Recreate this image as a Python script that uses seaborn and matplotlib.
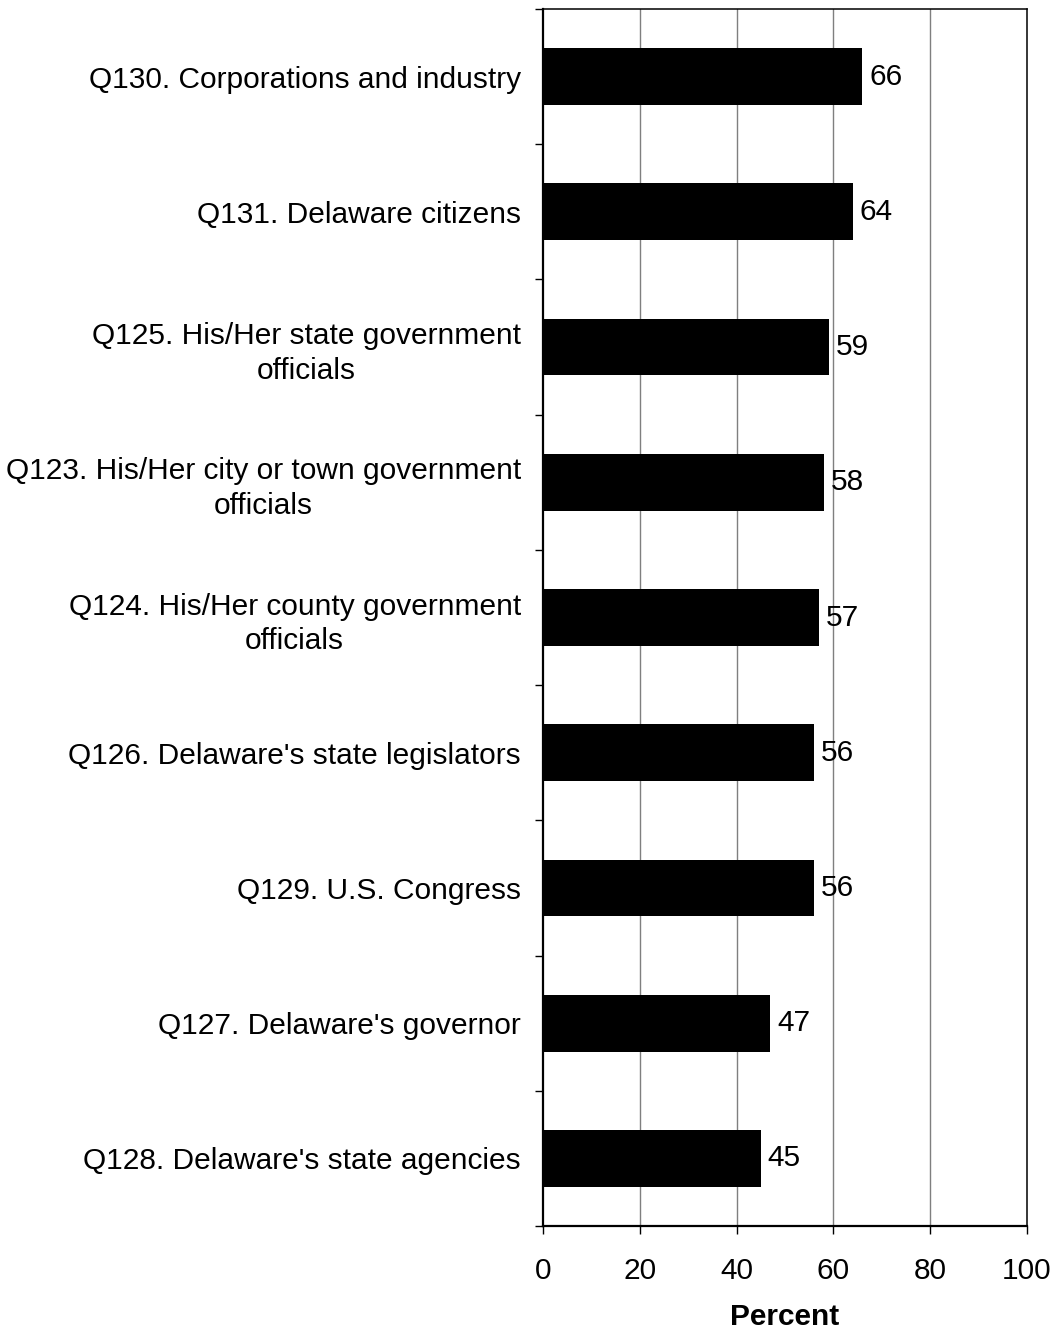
import matplotlib
matplotlib.use("Agg")
import matplotlib.pyplot as plt
import seaborn as sns
import pandas as pd
import numpy as np

# Chart data
questions = [
    "Q130. Corporations and industry",
    "Q131. Delaware citizens",
    "Q125. His/Her state government\nofficials",
    "Q123. His/Her city or town government\nofficials",
    "Q124. His/Her county government\nofficials",
    "Q126. Delaware's state legislators",
    "Q129. U.S. Congress",
    "Q127. Delaware's governor",
    "Q128. Delaware's state agencies",
]
percents = [66, 64, 59, 58, 57, 56, 56, 47, 45]
x_ticks = [0, 20, 40, 60, 80, 100]

sns.set_style("white")
plt.rcParams['font.family'] = ['Liberation Sans', 'DejaVu Sans']
plt.rcParams['text.color'] = 'black'
plt.rcParams['xtick.color'] = 'black'
plt.rcParams['ytick.color'] = 'black'
plt.rcParams['axes.labelcolor'] = 'black'

FS = 21.5

df = pd.DataFrame({"question": questions, "percent": percents})

fig = plt.figure(figsize=(10.57, 13.32), dpi=100)
ax = fig.add_axes([0.5137, 0.0796, 0.4579, 0.9136])

sns.barplot(data=df, x="percent", y="question", orient="h", color="black",
            width=0.42, saturation=1, ax=ax, zorder=3, linewidth=0)

for c in ax.containers:
    ax.bar_label(c, labels=[str(v) for v in percents], padding=5,
                 fontsize=FS, color="black")

ax.set_xlim(0, 100)
ax.set_ylim(len(questions) - 0.5, -0.5)
ax.set_xticks(x_ticks)
ax.set_xticklabels([str(t) for t in x_ticks], fontsize=FS)

# vertical gridlines
ax.grid(False)
for t in x_ticks[1:-1]:
    ax.axvline(t, color="#7f7f7f", lw=1, zorder=1)

# y labels: no major ticks, minor ticks at category boundaries
ax.tick_params(axis="y", which="major", length=0, pad=16, labelsize=FS)
ax.set_yticks(np.arange(-0.5, len(questions) + 0.5, 1), minor=True)
ax.tick_params(axis="y", which="minor", length=6, width=1, direction="out",
               left=True, color="black")
for lbl in ax.get_yticklabels():
    lbl.set_multialignment("center")
    lbl.set_linespacing(1.3)

ax.tick_params(axis="x", which="major", length=6, width=1, direction="out",
               bottom=True, pad=16, color="black")

ax.set_ylabel("")
ax.set_xlabel("Percent", fontsize=FS, fontweight="bold", labelpad=13)

for side in ["left", "bottom"]:
    ax.spines[side].set_linewidth(1.6)
    ax.spines[side].set_color("black")
for side in ["top", "right"]:
    ax.spines[side].set_linewidth(1.1)
    ax.spines[side].set_color("black")
    ax.spines[side].set_visible(True)

fig.savefig("out.png", dpi=100, facecolor="white")
